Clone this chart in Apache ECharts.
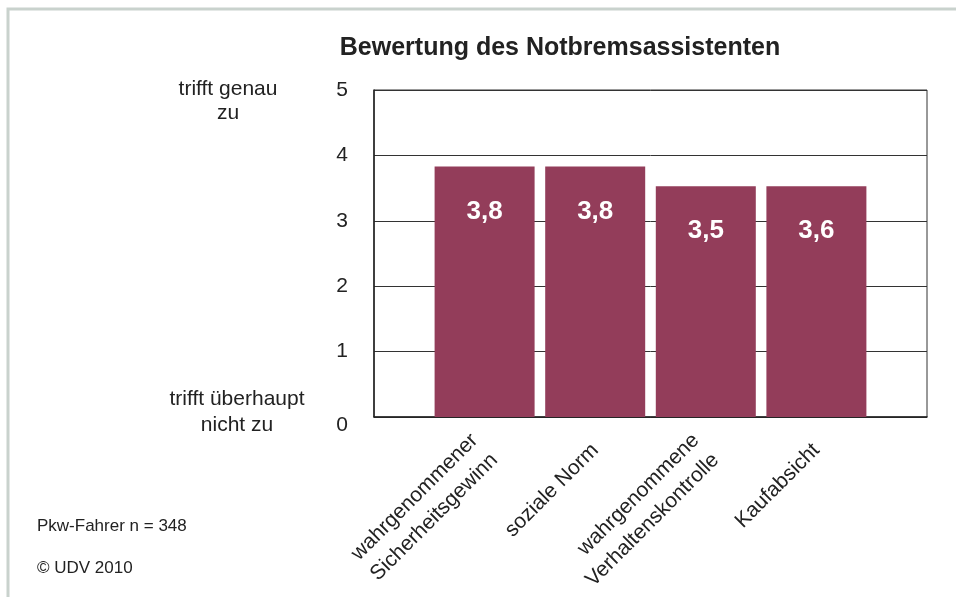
<!DOCTYPE html>
<html>
<head>
<meta charset="utf-8">
<script src="https://cdn.jsdelivr.net/npm/echarts@6/dist/echarts.min.js"></script>
<style>
  html, body { margin: 0; padding: 0; background: #fff; }
  #chart { width: 956px; height: 597px; }
</style>
</head>
<body>
<div id="chart"></div>
<script>
// Kategorien und Werte
var categories = [
  'wahrgenommener\nSicherheitsgewinn',
  'soziale Norm',
  'wahrgenommene\nVerhaltenskontrolle',
  'Kaufabsicht'
]
var barHeights = [3.83, 3.83, 3.53, 3.53]
var valueLabels = ['3,8', '3,8', '3,5', '3,6']
var yTicks = [0, 1, 2, 3, 4, 5]

var font = 'Liberation Sans, Arial, sans-serif'
var chart = echarts.init(document.getElementById('chart'))

// leere Plätze links und rechts, damit die Balken wie im Original sitzen
var xData = [''].concat(categories, [''])
var barData = ['-'].concat(barHeights, ['-'])

chart.setOption({
  animation: false,
  title: {
    text: 'Bewertung des Notbremsassistenten',
    left: 555,
    top: 31,
    textAlign: 'center',
    textStyle: {
      fontFamily: font,
      fontWeight: 'bold',
      fontSize: 25,
      color: '#222'
    }
  },
  grid: {
    left: 374,
    right: 29,
    top: 90,
    bottom: 180,
    show: true,
    borderColor: '#333',
    borderWidth: 1,
    backgroundColor: 'transparent'
  },
  xAxis: {
    type: 'category',
    boundaryGap: false,
    data: xData,
    axisLine: { lineStyle: { color: '#222', width: 1.5 } },
    axisTick: { show: false },
    axisLabel: {
      interval: 0,
      rotate: 45,
      margin: 30,
      fontFamily: font,
      fontSize: 21,
      lineHeight: 28,
      color: '#222'
    }
  },
  yAxis: {
    type: 'value',
    min: yTicks[0],
    max: yTicks[yTicks.length - 1],
    interval: 1,
    axisLine: { show: true, lineStyle: { color: '#222', width: 1.5 } },
    axisTick: { show: false },
    axisLabel: {
      margin: 26,
      fontFamily: font,
      fontSize: 21,
      color: '#222',
      // die 0 sitzt im Original etwas tiefer
      formatter: function (v) {
        return v === 0 ? '{z|0}' : String(v)
      },
      rich: {
        z: { fontFamily: font, fontSize: 21, color: '#222', padding: [16, 0, 0, 0] }
      }
    },
    splitLine: { lineStyle: { color: '#333', width: 1 } }
  },
  series: [{
    type: 'bar',
    data: barData,
    barWidth: 100,
    itemStyle: { color: '#933d5a' },
    label: {
      show: true,
      position: 'insideTop',
      distance: 32,
      fontFamily: font,
      fontWeight: 'bold',
      fontSize: 26,
      color: '#fff',
      formatter: function (p) {
        return valueLabels[p.dataIndex - 1]
      }
    }
  }],
  graphic: [
    {
      type: 'rect',
      shape: { x: 8, y: 9, width: 1200, height: 1000 },
      style: { fill: 'none', stroke: '#c9d2cd', lineWidth: 3 }
    },
    {
      type: 'text',
      x: 228, y: 77,
      style: {
        text: 'trifft genau\nzu',
        textAlign: 'center',
        textVerticalAlign: 'top',
        font: '21px ' + font,
        lineHeight: 24,
        fill: '#222'
      }
    },
    {
      type: 'text',
      x: 237, y: 386,
      style: {
        text: 'trifft überhaupt\nnicht zu',
        textAlign: 'center',
        textVerticalAlign: 'top',
        font: '21px ' + font,
        lineHeight: 26,
        fill: '#222'
      }
    },
    {
      type: 'text',
      x: 37, y: 518,
      style: { text: 'Pkw-Fahrer n = 348', font: '17px ' + font, fill: '#222', textVerticalAlign: 'top' }
    },
    {
      type: 'text',
      x: 37, y: 560,
      style: { text: '© UDV 2010', font: '17px ' + font, fill: '#222', textVerticalAlign: 'top' }
    }
  ]
})
</script>
</body>
</html>
